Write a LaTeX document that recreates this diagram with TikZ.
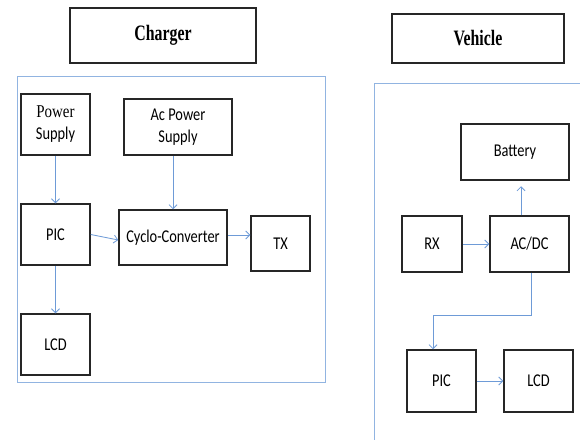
\documentclass[tikz,border=0pt]{standalone}
\usepackage{fontspec}
\setmainfont{Carlito}
\newfontfamily\tmsfont{Liberation Serif}
\usetikzlibrary{arrows.meta}
\definecolor{frameblue}{RGB}{145,180,225}
\definecolor{arrowblue}{RGB}{110,155,215}
\newcommand\sqz[1]{\scalebox{0.8}[1]{#1}}
\tikzset{
  blk/.style={draw=black!85, line width=1.5pt, inner sep=0pt, align=center,
    font=\fontsize{18}{22}\selectfont},
  ttl/.style={blk, font=\tmsfont\bfseries\fontsize{22}{24}\selectfont},
  frm/.style={draw=frameblue, line width=1pt},
  arr/.style={draw=arrowblue, line width=0.8pt, -{Straight Barb[length=4pt,width=8pt]}},
}
\begin{document}
\begin{tikzpicture}[x=1pt,y=-1pt]
\useasboundingbox (0,0) rectangle (580,444);

% section titles
\node[ttl, minimum width=186pt, minimum height=55pt] (charger) at (163,35.5) {\scalebox{0.72}[1]{Charger}};
\node[ttl, minimum width=172pt, minimum height=49pt] (vehicle) at (478,38.5) {\scalebox{0.72}[1]{Vehicle}};

% frames
\draw[frm] (17,76) rectangle (325,382);
\draw[frm] (580,83) -- (374,83) -- (374,440);

% charger side
\node[blk, minimum width=69pt, minimum height=61pt] (ps) at (55.5,124.5)
  {\scalebox{0.83}[1]{\tmsfont Power}\\\sqz{Supply}};
\node[blk, minimum width=108pt, minimum height=56pt] (acps) at (178,127)
  {\sqz{Ac Power}\\\sqz{Supply}};
\node[blk, minimum width=69pt, minimum height=61pt] (pic) at (55.5,234.5) {\sqz{PIC}};
\node[blk, minimum width=108pt, minimum height=55pt] (cyc) at (173,237.5) {\sqz{Cyclo-Converter}};
\node[blk, minimum width=59pt, minimum height=55pt] (tx) at (280.5,243.5) {\sqz{TX}};
\node[blk, minimum width=69pt, minimum height=61pt] (lcd) at (55.5,344.5) {\sqz{LCD}};

\draw[arr] (ps.south) -- (pic.north);
\draw[arr] ([xshift=-5pt]acps.south) -- (cyc.north);
\draw[arr] (pic.east) -- ([yshift=-2.5pt]cyc.west);
\draw[arr] ([yshift=2.5pt]cyc.east) -- ([yshift=2.5pt]cyc.east -| tx.west);
\draw[arr] (pic.south) -- (lcd.north);

% vehicle side
\node[blk, minimum width=108pt, minimum height=56pt] (bat) at (515,152) {\sqz{Battery}};
\node[blk, minimum width=60pt, minimum height=56pt] (rx) at (432,244) {\sqz{RX}};
\node[blk, minimum width=79pt, minimum height=56pt] (acdc) at (529.5,244) {\sqz{AC/DC}};
\node[blk, minimum width=69pt, minimum height=62pt] (vpic) at (441.5,381) {\sqz{PIC}};
\node[blk, minimum width=69pt, minimum height=62pt] (vlcd) at (538.5,381) {\sqz{LCD}};

\draw[arr] (rx.east) -- (acdc.west);
\draw[arr] ([xshift=-8.5pt]acdc.north) -- ++(0,-29);
\draw[arr] ([xshift=1.5pt]acdc.south) -- ++(0,43) -| ([xshift=-8.5pt]vpic.north);
\draw[arr] (vpic.east) -- (vlcd.west);
\end{tikzpicture}
\end{document}
